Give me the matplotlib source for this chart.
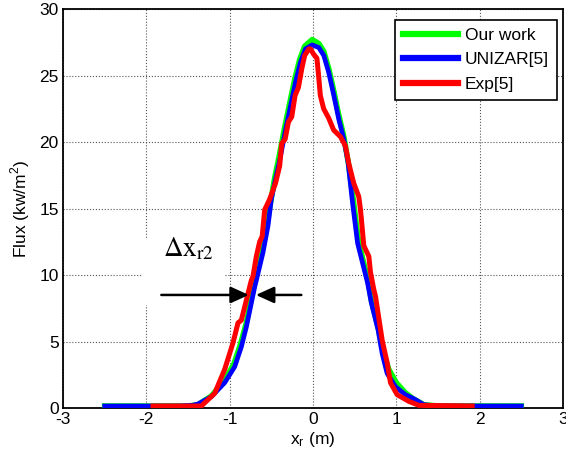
import matplotlib
matplotlib.use("Agg")
import matplotlib.pyplot as plt
from matplotlib.patches import Rectangle

plt.rcParams['font.family'] = ['Liberation Sans', 'DejaVu Sans']
plt.rcParams['mathtext.fontset'] = 'stix'
plt.rcParams['axes.unicode_minus'] = False

# Our work (simulation)
our_x = [-2.5, -1.5, -1.38, -1.22, -1.07, -0.95, -0.87, -0.80, -0.74, -0.69, -0.61,
         -0.55, -0.50, -0.46, -0.41, -0.34, -0.28, -0.22, -0.16, -0.10, -0.01, 0.07,
         0.13, 0.19, 0.25, 0.31, 0.37, 0.43, 0.48, 0.54, 0.60, 0.66, 0.70, 0.78,
         0.84, 0.91, 1.00, 1.10, 1.20, 1.33, 1.5, 2.5]
our_y = [0.15, 0.15, 0.25, 0.9, 2.0, 3.3, 4.8, 6.4, 8.2, 9.7, 11.9,
         13.9, 15.8, 17.3, 18.8, 21.1, 22.9, 24.7, 26.2, 27.2, 27.7, 27.4,
         26.8, 25.5, 23.8, 22.0, 20.4, 18.2, 15.8, 12.8, 11.1, 9.6, 8.1, 6.1,
         4.3, 2.9, 1.9, 1.2, 0.7, 0.25, 0.15, 0.15]

# UNIZAR[5]
uni_x = [-2.5, -1.6, -1.45, -1.38, -1.22, -1.06, -0.94, -0.86, -0.80, -0.74, -0.70,
         -0.68, -0.60, -0.54, -0.50, -0.45, -0.40, -0.33, -0.27, -0.21, -0.15, -0.09,
         -0.01, 0.07, 0.13, 0.19, 0.25, 0.31, 0.37, 0.42, 0.475, 0.535, 0.595, 0.655,
         0.70, 0.78, 0.83, 0.89, 0.99, 1.11, 1.21, 1.33, 1.5, 2.5]
uni_y = [0.15, 0.15, 0.2, 0.3, 0.85, 1.9, 3.1, 4.6, 6.1, 7.9, 9.1,
         9.6, 11.7, 13.7, 15.7, 17.2, 18.6, 20.9, 22.7, 24.5, 26.0, 27.0,
         27.3, 27.1, 26.5, 25.2, 23.5, 21.7, 20.2, 18.5, 15.4, 12.4, 10.9, 9.4,
         7.9, 5.9, 4.1, 2.6, 1.6, 1.0, 0.7, 0.25, 0.15, 0.15]

# Exp[5]
exp_x = [-1.92, -1.34, -1.18, -1.06, -0.96, -0.90, -0.86, -0.82, -0.78, -0.74, -0.72,
         -0.68, -0.64, -0.61, -0.58, -0.52, -0.45, -0.40, -0.375, -0.335, -0.295,
         -0.255, -0.215, -0.175, -0.135, -0.10, -0.05, -0.03, 0.007, 0.047, 0.067,
         0.088, 0.128, 0.188, 0.248, 0.329, 0.389, 0.429, 0.489, 0.549, 0.57, 0.61,
         0.67, 0.69, 0.73, 0.75, 0.83, 0.89, 0.93, 1.01, 1.15, 1.27, 1.91]
exp_y = [0.15, 0.15, 1.1, 2.9, 4.9, 6.4, 6.6, 7.6, 8.6, 9.6, 9.9,
         11.4, 12.5, 12.9, 14.9, 15.7, 16.9, 18.2, 19.9, 20.2, 21.5,
         21.9, 23.5, 24.1, 25.5, 26.5, 27.0, 27.0, 26.6, 26.3, 25.0,
         23.5, 22.5, 21.8, 20.9, 20.4, 19.7, 18.4, 16.9, 15.9, 14.9, 12.2,
         11.4, 10.2, 8.9, 8.4, 5.1, 3.4, 1.9, 1.0, 0.5, 0.2, 0.15]

xticks = [-3, -2, -1, 0, 1, 2, 3]
yticks = [0, 5, 10, 15, 20, 25, 30]

fig = plt.figure(figsize=(5.66, 4.55), dpi=100)
ax = fig.add_axes([63 / 566, 47 / 455, 500 / 566, 399 / 455])

ax.plot(our_x, our_y, color='#00ff00', lw=4.0, label='Our work', zorder=3)
ax.plot(uni_x, uni_y, color='#0000ff', lw=3.4, label='UNIZAR[5]', zorder=4)
ax.plot(exp_x, exp_y, color='#ff0000', lw=3.6, label='Exp[5]', zorder=5)

ax.set_xlim(-3, 3)
ax.set_ylim(0, 30)
ax.set_xticks(xticks)
ax.set_yticks(yticks)
ax.grid(True, color='#555555', linestyle=':', linewidth=0.8)
ax.tick_params(direction='in', length=0, labelsize=12.5, pad=3)
for s in ax.spines.values():
    s.set_linewidth(1.3)

ax.set_xlabel('x$_\\mathregular{r}$ (m)', fontsize=12.5, labelpad=2)
ax.set_ylabel('Flux (kw/m$^\\mathregular{2}$)', fontsize=12.5, labelpad=5)

# white patch behind the annotation
ax.add_patch(Rectangle((-2.04, 7.76), 0.975, 5.04, facecolor='white',
                       edgecolor='none', zorder=2))
ax.text(-1.80, 11.4, r'$\Delta\mathrm{x}_{\mathrm{r}2}$', fontsize=19.5,
        ha='left', va='baseline', zorder=6)

arrow_kw = dict(arrowstyle='-|>,head_length=1.1,head_width=0.5', color='k',
                lw=1.8, shrinkA=0, shrinkB=0, mutation_scale=10)
ax.annotate('', xy=(-0.77, 8.5), xytext=(-1.82, 8.5), arrowprops=arrow_kw, zorder=6)
ax.annotate('', xy=(-0.685, 8.5), xytext=(-0.14, 8.5), arrowprops=arrow_kw, zorder=6)

leg = ax.legend(loc='upper right', bbox_to_anchor=(0.987, 0.973), fontsize=12.5,
                handlelength=3.2, labelspacing=0.55, handletextpad=0.35,
                borderpad=0.45, borderaxespad=0, fancybox=False, framealpha=1,
                edgecolor='black')
leg.get_frame().set_linewidth(1.2)
for line in leg.get_lines():
    line.set_linewidth(4.5)

fig.savefig('out.png', dpi=100)
